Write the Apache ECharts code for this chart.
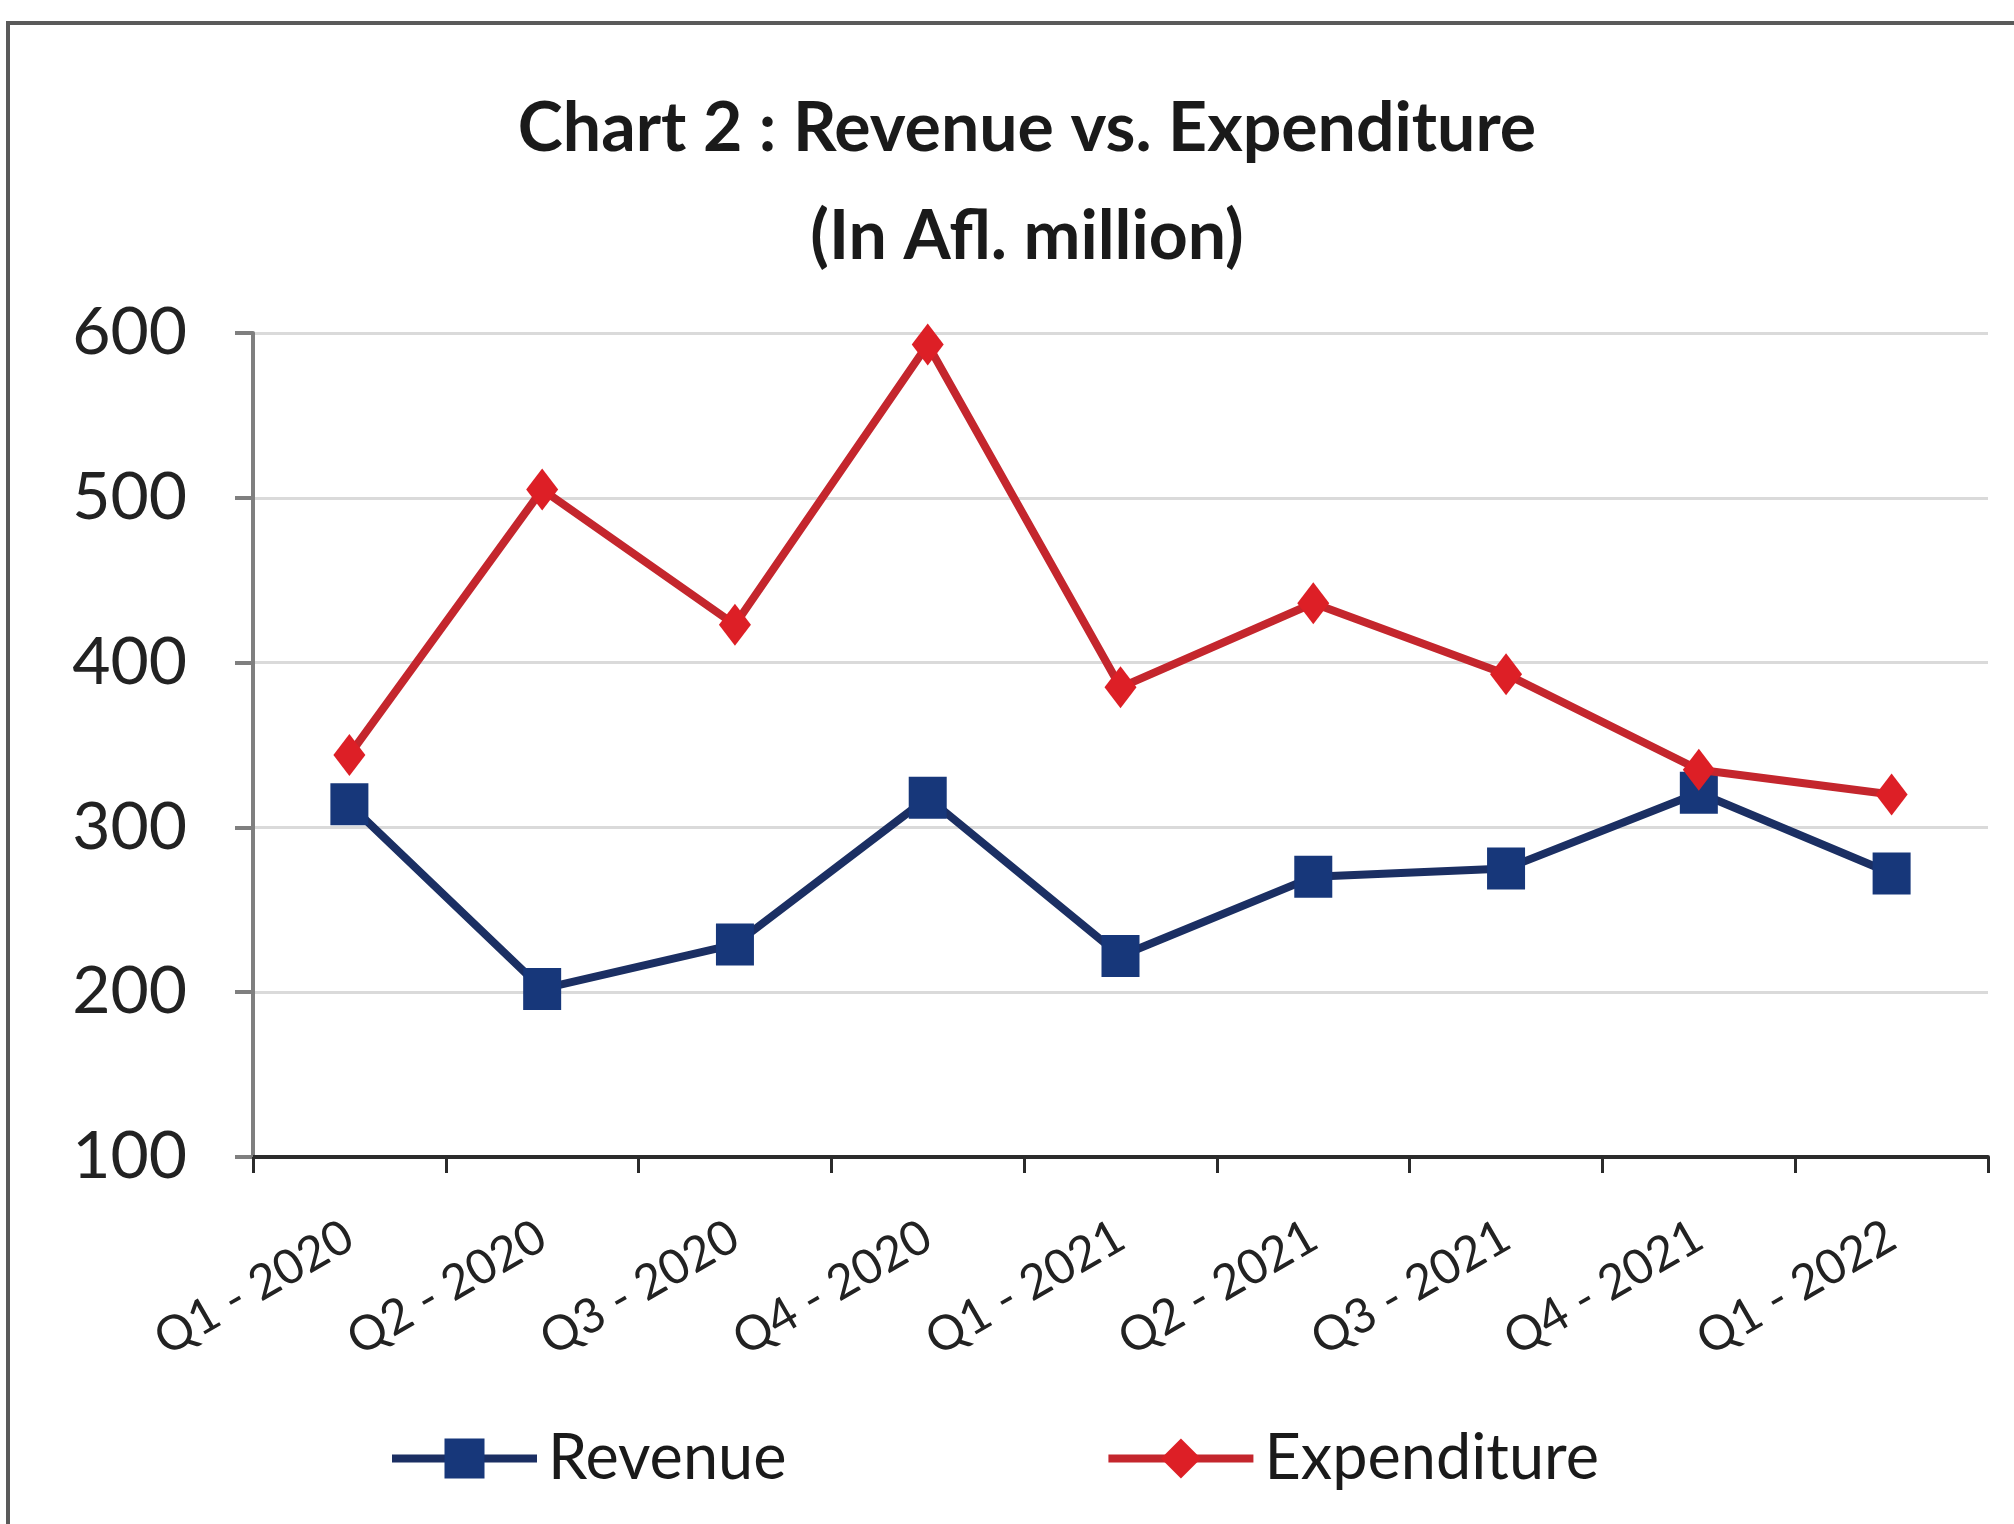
<!DOCTYPE html>
<html>
<head>
<meta charset="utf-8">
<script src="https://cdn.jsdelivr.net/npm/echarts@6/dist/echarts.min.js"></script>
<style>
html,body{margin:0;padding:0;background:#fff;}
#chart{width:2014px;height:1524px;}
</style>
</head>
<body>
<div id="chart"></div>
<script>
const titleLine1 = 'Chart 2 : Revenue vs. Expenditure';
const titleLine2 = '(In Afl. million)';
const categories = ['Q1 - 2020','Q2 - 2020','Q3 - 2020','Q4 - 2020','Q1 - 2021','Q2 - 2021','Q3 - 2021','Q4 - 2021','Q1 - 2022'];
const revenue = [314, 202, 229, 318, 222, 270, 275, 321, 272];
const expenditure = [344, 505, 423, 593, 385, 436, 393, 335, 320];
const yTicks = [100, 200, 300, 400, 500, 600];

const chart = echarts.init(document.getElementById('chart'), null, {renderer:'canvas'});
const FONT = 'Lato';
chart.setOption({
  backgroundColor: '#ffffff',
  animation: false,
  title: [
    {text: titleLine1, left: 1022, top: 124, textAlign: 'center', textVerticalAlign: 'middle',
     textStyle: {fontFamily: FONT, fontWeight: 'bold', fontSize: 68, color: '#1a1a1a'}},
    {text: titleLine2, left: 1022, top: 232, textAlign: 'center', textVerticalAlign: 'middle',
     textStyle: {fontFamily: FONT, fontWeight: 'bold', fontSize: 68, color: '#1a1a1a'}}
  ],
  graphic: [
    {type: 'rect', shape: {x: 8, y: 23, width: 2100, height: 1600},
     style: {fill: 'none', stroke: '#5a5a5a', lineWidth: 4}, silent: true, z: -1}
  ],
  legend: {
    left: 383, top: 1422,
    itemWidth: 145, itemHeight: 50, itemGap: 318,
    lineStyle: {width: 8},
    textStyle: {fontFamily: FONT, fontSize: 63, color: '#1a1a1a', padding: [0,0,0,6]},
    data: ['Revenue', 'Expenditure']
  },
  grid: {left: 253, right: 26, top: 333, bottom: 367, containLabel: false},
  xAxis: {
    type: 'category',
    data: categories,
    boundaryGap: true,
    axisLine: {lineStyle: {color: '#2b2b2b', width: 4}},
    axisTick: {show: true, length: 16, interval: 0, lineStyle: {color: '#2b2b2b', width: 3}},
    axisLabel: {interval: 0, rotate: 30, margin: 76, fontFamily: FONT, fontSize: 48, color: '#222'},
    splitLine: {show: false}
  },
  yAxis: {
    type: 'value',
    min: 100, max: 600, interval: 100,
    axisLine: {show: true, lineStyle: {color: '#7f7f7f', width: 4}},
    axisTick: {show: true, length: 18, lineStyle: {color: '#7f7f7f', width: 4}},
    axisLabel: {margin: 66, fontFamily: FONT, fontSize: 66, color: '#222',
      formatter: function(v){ return yTicks.indexOf(v) >= 0 ? String(v) : ''; }},
    splitLine: {show: true, lineStyle: {color: '#dadada', width: 3}}
  },
  series: [
    {name: 'Revenue', type: 'line', data: revenue,
     symbol: 'rect', symbolSize: [38, 42],
     lineStyle: {color: '#1b2f63', width: 8},
     itemStyle: {color: '#17377a'}, z: 2},
    {name: 'Expenditure', type: 'line', data: expenditure,
     symbol: 'diamond', symbolSize: [32, 42],
     lineStyle: {color: '#c4262d', width: 8},
     itemStyle: {color: '#dd1f26'}, z: 3}
  ]
});
</script>
</body>
</html>
